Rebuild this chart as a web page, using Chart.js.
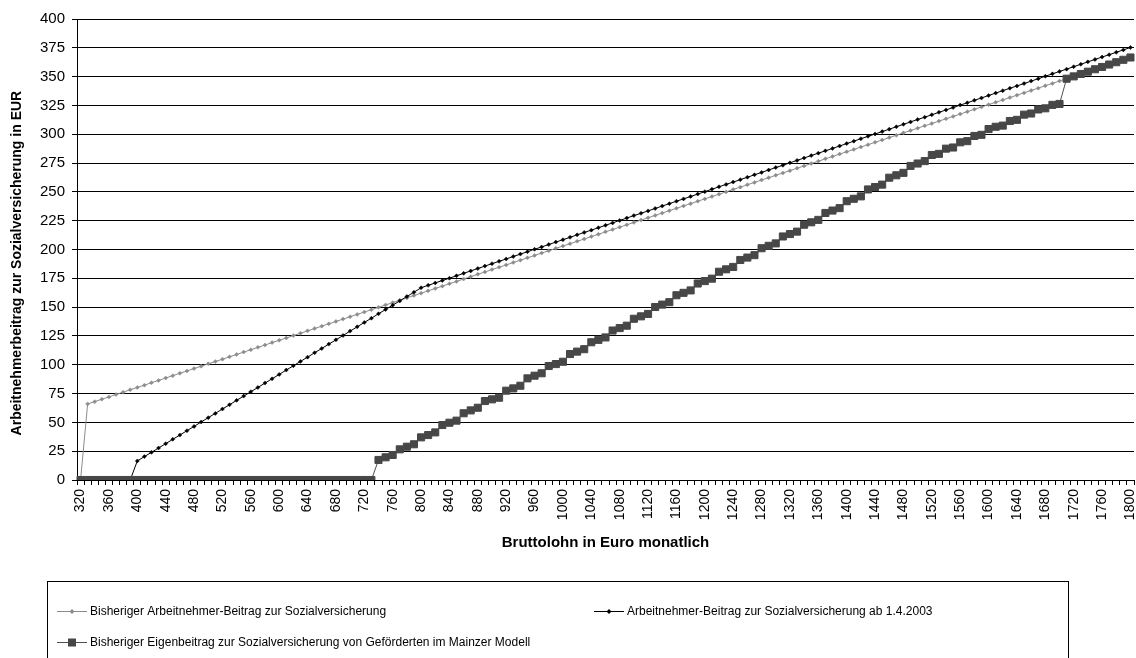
<!DOCTYPE html>
<html><head><meta charset="utf-8">
<script src="https://cdn.jsdelivr.net/npm/chart.js@4/dist/chart.umd.min.js"></script>
<style>html,body{margin:0;padding:0;overflow:hidden;background:#fff;width:1136px;height:658px}canvas{display:block}</style>
</head><body>
<canvas id="c" width="1140" height="658"></canvas>
<script>
const categories = [320,330,340,350,360,370,380,390,400,410,420,430,440,450,460,470,480,490,500,510,520,530,540,550,560,570,580,590,600,610,620,630,640,650,660,670,680,690,700,710,720,730,740,750,760,770,780,790,800,810,820,830,840,850,860,870,880,890,900,910,920,930,940,950,960,970,980,990,1000,1010,1020,1030,1040,1050,1060,1070,1080,1090,1100,1110,1120,1130,1140,1150,1160,1170,1180,1190,1200,1210,1220,1230,1240,1250,1260,1270,1280,1290,1300,1310,1320,1330,1340,1350,1360,1370,1380,1390,1400,1410,1420,1430,1440,1450,1460,1470,1480,1490,1500,1510,1520,1530,1540,1550,1560,1570,1580,1590,1600,1610,1620,1630,1640,1650,1660,1670,1680,1690,1700,1710,1720,1730,1740,1750,1760,1770,1780,1790,1800];

const xTickLabels = ['320','360','400','440','480','520','560','600','640','680','720','760','800','840','880','920','960','1000','1040','1080','1120','1160','1200','1240','1280','1320','1360','1400','1440','1480','1520','1560','1600','1640','1680','1720','1760','1800'];

const seriesNames = [
  'Bisheriger Arbeitnehmer-Beitrag zur Sozialversicherung',
  'Arbeitnehmer-Beitrag zur Sozialversicherung ab 1.4.2003',
  'Bisheriger Eigenbeitrag zur Sozialversicherung von Geförderten im Mainzer Modell'
];

const bisherigerBeitrag = [0,
66.0,68.0,70.1,72.1,74.2,76.2,78.3,80.3,82.3,84.4,86.4,88.5,90.5,92.6,94.6,96.7,98.7,100.8,102.8,104.8,106.9,108.9,111.0,113.0,115.1,117.1,119.2,121.2,123.2,125.3,127.3,129.4,131.4,133.5,135.5,137.6,139.6,141.7,143.7,145.7,147.8,149.8,151.9,153.9,156.0,158.0,160.1,162.1,164.1,166.2,168.2,170.3,172.3,174.4,176.4,178.5,180.5,182.6,184.6,186.6,188.7,190.7,192.8,194.8,196.9,198.9,201.0,203.0,
205.0,207.1,209.1,211.2,213.2,215.3,217.3,219.4,221.4,223.5,225.5,227.5,229.6,231.6,233.7,235.7,237.8,239.8,241.9,243.9,245.9,248.0,250.0,252.1,254.1,256.2,258.2,260.3,262.3,264.4,266.4,268.4,270.5,272.5,274.6,276.6,278.7,280.7,282.8,284.8,286.8,288.9,290.9,293.0,295.0,297.1,299.1,301.2,303.2,305.3,307.3,309.3,311.4,313.4,315.5,317.5,319.6,321.6,323.7,325.7,327.7,329.8,331.8,333.9,335.9,338.0,340.0,342.1,344.1,346.2,348.2,
null,null,null,null,null,null,null,null,null];

const beitragAb2003 = [0,0,0,0,0,0,0,0,
16.5,20.3,24.0,27.8,31.5,35.3,39.0,42.8,46.5,50.3,54.1,57.8,61.6,65.3,69.1,72.8,76.6,80.3,84.1,87.8,91.6,95.4,99.1,102.9,106.6,110.4,114.1,117.9,121.6,125.4,129.2,132.9,136.7,140.4,144.2,147.9,151.7,155.4,159.2,162.9,166.8,
168.9,171.0,173.1,175.1,177.2,179.3,181.4,183.5,185.6,187.7,189.7,191.8,193.9,196.0,198.1,200.2,202.2,204.3,206.4,208.5,210.6,212.7,214.8,216.8,218.9,221.0,223.1,225.2,227.3,229.4,231.4,233.5,235.6,237.7,239.8,241.9,243.9,246.0,248.1,250.2,252.3,254.4,256.5,258.5,260.6,262.7,264.8,266.9,269.0,271.1,273.1,275.2,277.3,279.4,281.5,283.6,285.6,287.7,289.8,291.9,294.0,296.1,298.2,300.2,302.3,304.4,306.5,308.6,310.7,312.8,314.8,316.9,319.0,321.1,323.2,325.3,327.3,329.4,331.5,333.6,335.7,337.8,339.9,341.9,344.0,346.1,348.2,350.3,352.4,354.5,356.5,358.6,360.7,362.8,364.9,367.0,369.0,371.1,373.2,375.3];

const mainzerEigenbeitrag = [0,0,0,0,0,0,0,0,0,0,0,0,0,0,0,0,0,0,0,0,0,0,0,0,0,0,0,0,0,0,0,0,0,0,0,0,0,0,0,0,0,0,
17.4,19.7,21.7,26.6,28.9,31.0,37.0,39.0,41.3,47.7,49.7,51.5,57.9,60.4,62.7,68.5,70.0,71.4,77.5,79.5,81.8,88.2,90.5,92.6,98.9,100.6,102.6,
109.3,111.4,113.5,119.5,121.6,123.7,129.7,131.8,133.9,139.9,142.0,144.1,150.1,152.2,154.3,160.3,162.4,164.5,170.5,172.6,174.7,180.7,182.8,184.9,190.9,193.0,195.1,201.1,203.2,205.3,211.3,213.4,215.5,221.5,223.6,225.7,231.7,233.8,235.9,241.9,244.0,246.1,252.1,254.2,256.3,262.3,264.4,266.5,272.5,274.6,276.7,
282.0,283.0,287.5,288.5,293.0,294.0,298.5,299.5,304.5,306.5,307.5,311.5,312.5,317.0,318.0,321.5,322.5,325.5,326.3,
348.2,350.2,352.3,354.3,356.4,358.4,360.5,362.5,364.6,366.6];

const yAxisTitle = 'Arbeitnehmerbeitrag zur Sozialversicherung in EUR';
const xAxisTitle = 'Bruttolohn in Euro monatlich';

const FONT = '"Liberation Sans", Arial, sans-serif';
Chart.defaults.font.family = FONT;
Chart.defaults.color = '#000';

const boxLegend = {
  id: 'boxLegend',
  afterDraw(chart) {
    const ctx = chart.ctx;
    ctx.save();
    ctx.strokeStyle = '#000';
    ctx.lineWidth = 1;
    ctx.strokeRect(47.5, 581.5, 1021, 120);
    const spots = [{ds: 0, x: 57, y: 611}, {ds: 1, x: 594, y: 611}, {ds: 2, x: 57, y: 642}];
    ctx.font = '12px ' + FONT;
    ctx.textBaseline = 'middle';
    spots.forEach(s => {
      const d = chart.data.datasets[s.ds];
      ctx.strokeStyle = d.borderColor;
      ctx.lineWidth = 1;
      ctx.beginPath();
      ctx.moveTo(s.x, s.y + 0.5);
      ctx.lineTo(s.x + 30, s.y + 0.5);
      ctx.stroke();
      ctx.fillStyle = d.pointBackgroundColor;
      const cx = s.x + 15, cy = s.y + 0.5;
      if (d.pointStyle === 'rect') {
        ctx.fillRect(cx - 4, cy - 4, 8, 8);
      } else {
        ctx.beginPath();
        ctx.moveTo(cx, cy - 2.5); ctx.lineTo(cx + 2.5, cy); ctx.lineTo(cx, cy + 2.5); ctx.lineTo(cx - 2.5, cy);
        ctx.closePath(); ctx.fill();
      }
      ctx.fillStyle = '#000';
      ctx.fillText(d.label, s.x + 33, s.y + 1);
    });
    ctx.restore();
  }
};

new Chart(document.getElementById('c'), {
  type: 'line',
  data: {
    labels: categories.map(String),
    datasets: [
      {
        label: seriesNames[0], data: bisherigerBeitrag, order: 2,
        borderColor: '#8c8c8c', backgroundColor: '#8c8c8c', borderWidth: 1,
        pointStyle: 'rectRot', pointRadius: 2, pointBorderWidth: 0.5,
        pointBackgroundColor: '#8c8c8c', pointBorderColor: '#8c8c8c', tension: 0
      },
      {
        label: seriesNames[1], data: beitragAb2003, order: 1,
        borderColor: '#000000', backgroundColor: '#000000', borderWidth: 1,
        pointStyle: 'rectRot', pointRadius: 2, pointBorderWidth: 0.5,
        pointBackgroundColor: '#000000', pointBorderColor: '#000000', tension: 0
      },
      {
        label: seriesNames[2], data: mainzerEigenbeitrag, order: 0,
        borderColor: '#505050', backgroundColor: '#474747', borderWidth: 1,
        pointStyle: 'rect', pointRadius: 5, pointBorderWidth: 1,
        pointBackgroundColor: '#474747', pointBorderColor: '#474747', tension: 0
      }
    ]
  },
  options: {
    responsive: false,
    animation: false,
    devicePixelRatio: 1,
    layout: {padding: {top: 19, right: 2, bottom: 106, left: 0}},
    plugins: {legend: {display: false}, tooltip: {enabled: false}},
    scales: {
      x: {
        type: 'category',
        offset: true,
        grid: {display: true, drawOnChartArea: false, drawTicks: true, tickLength: 5, color: '#000', offset: true},
        border: {display: true, color: '#000', width: 1},
        ticks: {
          autoSkip: false, minRotation: 90, maxRotation: 90, padding: 4,
          font: {size: 14}, color: '#000',
          callback: (v, i) => xTickLabels.includes(String(categories[i])) ? String(categories[i]) : ''
        },
        title: {display: true, text: xAxisTitle, font: {size: 15, weight: 'bold'}, color: '#000', padding: {top: 0, bottom: 0}},
        afterFit(s) { s.height = 72; s.paddingLeft = 0; s.paddingRight = 0; }
      },
      y: {
        min: 0, max: 400,
        ticks: {stepSize: 25, font: {size: 15}, color: '#000', padding: 7},
        grid: {color: '#000', tickLength: 5, drawTicks: true},
        border: {display: true, color: '#000', width: 1},
        title: {display: true, text: yAxisTitle + '\u00A0\u00A0\u00A0\u00A0\u00A0\u00A0\u00A0', font: {size: 14, weight: 'bold'}, color: '#000', padding: {top: 9, bottom: 0}},
        afterFit(s) { s.width = 77; s.paddingTop = 0; s.paddingBottom = 0; }
      }
    }
  },
  plugins: [boxLegend]
});
</script>
</body></html>
